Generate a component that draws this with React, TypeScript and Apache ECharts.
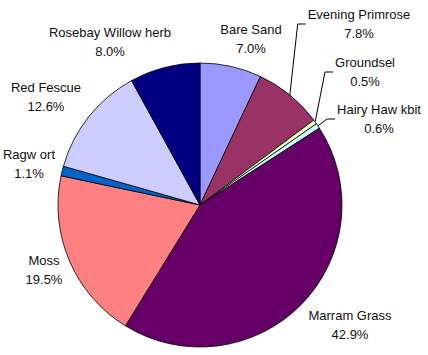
import React, { useEffect, useRef } from "react";
import * as echarts from "echarts";

const categories = [
  "Bare Sand",
  "Evening Primrose",
  "Groundsel",
  "Hairy Haw kbit",
  "Marram Grass",
  "Moss",
  "Ragw ort",
  "Red Fescue",
  "Rosebay Willow herb",
];
const values = [7.0, 7.8, 0.5, 0.6, 42.9, 19.5, 1.1, 12.6, 8.0];
const colors = [
  "#9999FF",
  "#993366",
  "#FFFFCC",
  "#CCFFFF",
  "#660066",
  "#FF8080",
  "#0066CC",
  "#CCCCFF",
  "#000080",
];
// label centre positions (layout)
const labelPos: number[][] = [
  [251, 39],
  [359, 24],
  [365, 72],
  [379, 119],
  [350, 325],
  [44, 270],
  [29, 164],
  [46, 97],
  [110, 42],
];
const withLeader = [false, true, true, true, false, false, false, false, false];

export default function App() {
  const ref = useRef<HTMLDivElement>(null);
  useEffect(() => {
    document.body.style.margin = "0";
    const chart = echarts.init(ref.current!, null, { renderer: "svg" });
    chart.setOption({
      animation: false,
      backgroundColor: "#ffffff",
      series: [
        {
          type: "pie",
          center: [200, 205],
          radius: 142,
          startAngle: 90,
          clockwise: true,
          avoidLabelOverlap: false,
          itemStyle: { borderColor: "#000000", borderWidth: 0.8 },
          label: {
            show: true,
            position: "outside",
            formatter: (p: any) => `${p.name}\n${p.value.toFixed(1)}%`,
            fontFamily: "Liberation Sans, Arial, sans-serif",
            fontSize: 13,
            lineHeight: 19,
            color: "#111111",
            align: "center",
          },
          labelLine: {
            show: true,
            lineStyle: { color: "#000000", width: 1 },
          },
          labelLayout: (params: any) => {
            const i = params.dataIndex;
            const [cx, cy] = labelPos[i];
            const res: any = {
              x: cx,
              y: cy,
              align: "center",
              verticalAlign: "middle",
            };
            if (withLeader[i] && params.labelLinePoints) {
              const anchor = params.labelLinePoints[0];
              const left = cx - params.labelRect.width / 2;
              res.labelLinePoints = [
                anchor,
                [left - 10, cy],
                [left - 2, cy],
              ];
            }
            return res;
          },
          data: categories.map((name, i) => ({
            name,
            value: values[i],
            itemStyle: { color: colors[i] },
            labelLine: { show: withLeader[i] },
          })),
        },
      ],
    });
    return () => chart.dispose();
  }, []);
  return <div ref={ref} style={{ width: 428, height: 355 }} />;
}
